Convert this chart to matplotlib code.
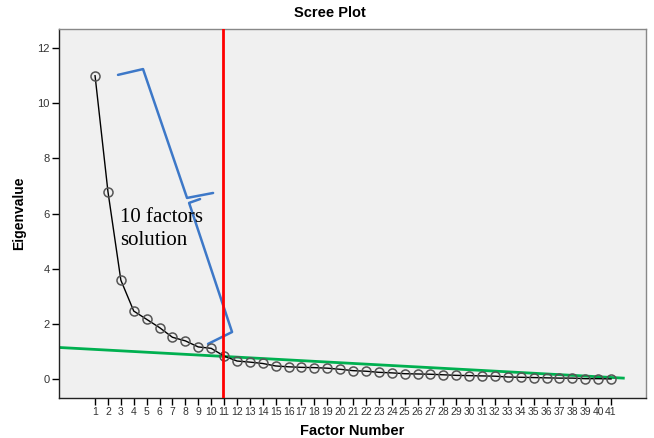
import matplotlib
matplotlib.use("Agg")
import matplotlib.pyplot as plt
import numpy as np

# ---- data ----
factors = list(range(1, 42))
eigenvalues = [11.00, 6.80, 3.59, 2.47, 2.17, 1.87, 1.52, 1.39, 1.17, 1.12,
               0.84, 0.66, 0.62, 0.57, 0.48, 0.45, 0.43, 0.42, 0.40, 0.36,
               0.31, 0.29, 0.25, 0.23, 0.20, 0.19, 0.18, 0.16, 0.14, 0.13,
               0.12, 0.11, 0.08, 0.07, 0.06, 0.05, 0.04, 0.04, 0.02, 0.02, 0.01]
x_tick_labels = [str(f) for f in factors]
y_ticks = [0, 2, 4, 6, 8, 10, 12]

cutoff_x = 10.9                       # red vertical line
green_x = [-1.77, 41.95]              # green reference line
green_y = [1.15, 0.04]
brace1_x = [2.78, 4.72, 8.13, 10.15]  # hand-drawn blue brace
brace1_y = [11.03, 11.24, 6.57, 6.75]
brace2_x = [9.14, 8.29, 11.62, 9.76]
brace2_y = [6.53, 6.39, 1.71, 1.28]
annotation = "10 factors\nsolution"

# ---- figure ----
fig = plt.figure(figsize=(6.54, 4.38), dpi=100)
ax = fig.add_axes([0.0907, 0.092, 0.8971, 0.841])
ax.set_facecolor("#f0f0f0")

ax.plot(factors, eigenvalues, color="black", lw=1.0, zorder=3,
        marker="o", markersize=6.5, markerfacecolor="none",
        markeredgecolor="#555555", markeredgewidth=1.1)

ax.plot(green_x, green_y, color="#00b050", lw=2.0, zorder=2)
ax.axvline(cutoff_x, color="#ff0000", lw=2.0, zorder=4)
ax.plot(brace1_x, brace1_y, color="#3d78c8", lw=1.8, zorder=2,
        solid_joinstyle="round", solid_capstyle="round")
ax.plot(brace2_x, brace2_y, color="#3d78c8", lw=1.8, zorder=2,
        solid_joinstyle="round", solid_capstyle="round")

ax.text(2.94, 6.2, annotation, family="Liberation Serif", fontsize=15,
        va="top", ha="left", linespacing=1.3, color="black", zorder=5)

ax.set_xlim(-1.77, 43.71)
ax.set_ylim(-0.67, 12.68)
ax.set_xticks(factors)
ax.set_xticklabels(x_tick_labels, fontsize=7.5, family="Liberation Sans",
                   color="#333333")
ax.set_yticks(y_ticks)
ax.set_yticklabels([str(v) for v in y_ticks], fontsize=8,
                   family="Liberation Sans", color="#333333")
ax.tick_params(axis="both", direction="out", length=5, width=1,
               color="black", pad=2)

for side in ["left", "bottom"]:
    ax.spines[side].set_color("#222222")
    ax.spines[side].set_linewidth(1.0)
for side in ["top", "right"]:
    ax.spines[side].set_color("#888888")
    ax.spines[side].set_linewidth(1.0)

ax.set_xlabel("Factor Number", fontsize=10.5, fontweight="bold",
              family="Liberation Sans", labelpad=5)
ax.set_ylabel("Eigenvalue", fontsize=10, fontweight="bold",
              family="Liberation Sans", labelpad=8)
fig.text(0.505, 0.970, "Scree Plot", ha="center", va="center",
         fontsize=10.5, fontweight="bold", family="Liberation Sans")

fig.savefig("out.png", dpi=100)
